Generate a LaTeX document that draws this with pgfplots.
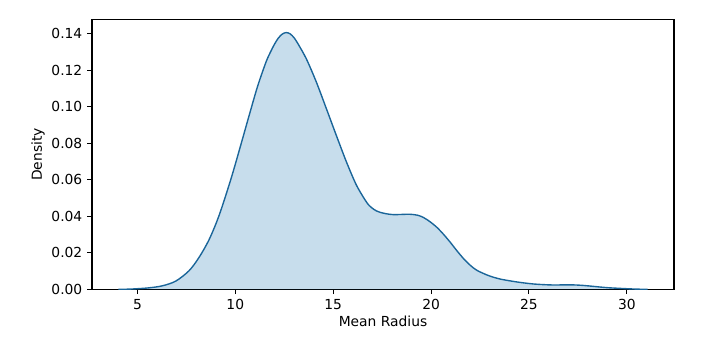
\documentclass[border=0pt]{standalone}
\usepackage{pgfplots}
\pgfplotsset{compat=1.18}
\usepackage{fontspec}
\setmainfont{DejaVu Sans}
\definecolor{tabblue}{HTML}{1F77B4}
\pgfplotstableread{
x y
4.03 0.0000
4.6 0.0001
5.1 0.0004
5.59 0.0008
6.27 0.0019
6.96 0.0045
7.64 0.0102
8.15 0.0175
8.67 0.0274
9.18 0.0407
9.78 0.0605
10.29 0.0794
10.72 0.0957
11.14 0.1112
11.57 0.1245
11.8 0.1300
12.0 0.1342
12.2 0.1376
12.4 0.1398
12.6 0.1406
12.8 0.1399
13.0 0.1378
13.2 0.1345
13.63 0.1262
14.14 0.1135
14.65 0.0990
15.16 0.0843
15.68 0.0697
16.19 0.0570
16.7 0.0478
16.95 0.0448
17.2 0.0430
17.45 0.0420
17.75 0.0413
18.07 0.0409
18.5 0.0410
18.92 0.0411
19.3 0.0406
19.6 0.0394
19.95 0.0370
20.29 0.0340
20.63 0.0302
20.97 0.0259
21.3 0.0214
21.66 0.0168
22.0 0.0132
22.34 0.0104
22.94 0.0075
23.54 0.0056
24.4 0.0040
25.25 0.0029
26.1 0.0024
26.7 0.0024
27.3 0.0024
27.8 0.0021
28.3 0.0016
29.0 0.0009
29.85 0.0004
30.5 0.0001
31.06 0.0000
}\kde
\begin{document}
\begin{tikzpicture}
\path[use as bounding box] (-0.92in,-0.53in) rectangle (6.28in,2.893in);
\begin{axis}[
  at={(0,0)}, anchor=south west,
  scale only axis,
  width=5.82in, height=2.697in,
  xmin=2.68, xmax=32.41,
  ymin=0, ymax=0.1477,
  xtick={5,10,15,20,25,30},
  ytick={0,0.02,0.04,0.06,0.08,0.10,0.12,0.14},
  yticklabel style={/pgf/number format/.cd, fixed, fixed zerofill, precision=2},
  /pgf/number format/assume math mode=true,
  tick align=outside,
  tick pos=left,
  major tick length=3.5pt,
  tick style={black, line width=0.8pt},
  axis line style={line width=0.8pt},
  ticklabel style={font=\fontsize{10}{12}\selectfont},
  xlabel={Mean Radius},
  ylabel={Density},
  label style={font=\fontsize{10}{12}\selectfont},
  xlabel style={yshift=2pt},
  ylabel style={yshift=-2pt},
  clip=true,
]
\addplot[draw=none, fill=tabblue, fill opacity=0.25, smooth, tension=0.5] table {\kde} \closedcycle;
\addplot[tabblue!85!black, line width=1.0pt, smooth, tension=0.5] table {\kde};
\end{axis}
\end{tikzpicture}
\end{document}
